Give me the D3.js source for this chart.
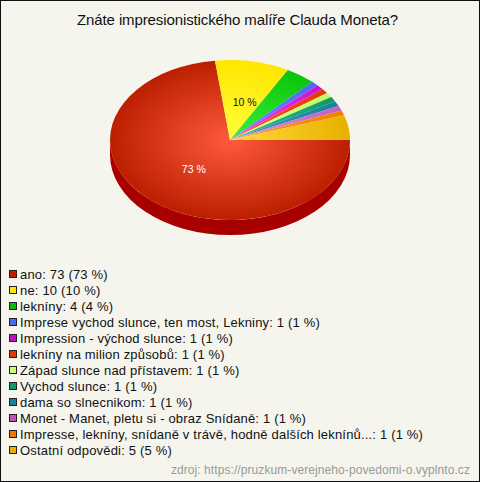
<!DOCTYPE html>
<html><head><meta charset="utf-8">
<script src="https://cdn.jsdelivr.net/npm/d3@7/dist/d3.min.js"></script>
<style>html,body{margin:0;padding:0;background:#f5f5ee}svg{display:block}text{font-family:"Liberation Sans",Arial,sans-serif}</style>
</head><body><svg id="c" width="480" height="482"></svg>
<script>
const titleText = "Znáte impresionistického malíře Clauda Moneta?";
const sourceText = "zdroj: https://pruzkum-verejneho-povedomi-o.vyplnto.cz";
const categories = ["ano","ne","lekníny","Imprese vychod slunce, ten most, Lekniny","Impression - východ slunce","lekníny na milion způsobů","Západ slunce nad přístavem","Vychod slunce","dama so slnecnikom","Monet - Manet, pletu si - obraz Snídaně","Impresse, lekníny, snídaně v trávě, hodně dalších leknínů...","Ostatní odpovědi"];
const values = [73,10,4,1,1,1,1,1,1,1,1,5];
const percents = [73,10,4,1,1,1,1,1,1,1,1,5];
const edgeColors = ["#bb1f00","#ffe600","#0bc40b","#4a6af0","#c814d0","#e03a08","#bcfc68","#0e9a68","#1a809c","#c060c4","#f08000","#e8b000"];
const centerColors = ["#ff5a3c","#ffff3c","#3cf03c","#6a8cff","#ff3cff","#ff5a28","#e0ff9c","#30c090","#40a0bc","#e090e0","#ffa028","#ffdc3c"];
const markerColors = ["#bb1f00","#ffe600","#0bb80b","#4a6af0","#c010c8","#e03a08","#c0ff70","#0e9a68","#1a809c","#b858b8","#f07800","#e8b000"];
const sideColor = "#a80000";
const labelled = [0,1];

const W=480,H=482,cx=230,cy=140,rx=120,ry=80,depth=15;
const svg=d3.select("#c");
svg.append("rect").attr("x",.5).attr("y",.5).attr("width",W-1).attr("height",H-1).attr("fill","#f5f5ee").attr("stroke","#111");
svg.append("text").attr("x",237.5).attr("y",25).attr("text-anchor","middle").attr("font-size",15).attr("letter-spacing",-0.11).attr("fill","#111").text(titleText);

const pie=d3.pie().sort(null).startAngle(Math.PI/2).endAngle(Math.PI/2+2*Math.PI);
const arcs=pie(values);
const arc=d3.arc().innerRadius(0).outerRadius(1);
const defs=svg.append("defs");
categories.forEach((c,i)=>{
  const g=defs.append("radialGradient").attr("id","g"+i).attr("gradientUnits","userSpaceOnUse").attr("cx",0).attr("cy",0).attr("r",1);
  g.append("stop").attr("offset",0).attr("stop-color",centerColors[i]);
  g.append("stop").attr("offset",1).attr("stop-color",edgeColors[i]);
});
const sx=d3.scaleLinear().domain([-1,1]).range([cx-rx,cx+rx]);
const sy=d3.scaleLinear().domain([-1,1]).range([cy-ry,cy+ry]);
svg.append("path").attr("fill",sideColor)
  .attr("d",`M${sx(1)},${sy(0)}A${rx},${ry} 0 0 1 ${sx(-1)},${sy(0)}L${sx(-1)},${sy(0)+depth}A${rx},${ry} 0 0 0 ${sx(1)},${sy(0)+depth}Z`);
const face=svg.append("g").attr("transform",`translate(${cx},${cy}) scale(${rx},${ry})`);
face.selectAll("path").data(arcs).join("path").attr("d",arc).attr("fill",(d,i)=>`url(#g${i})`);
labelled.forEach(i=>{
  const a=arcs[i], m=(a.startAngle+a.endAngle)/2-Math.PI/2;
  const f=.5;
  svg.append("text").attr("x",sx(Math.cos(m)*f)+3.5).attr("y",sy(Math.sin(m)*f)+(i==0?3:5))
    .attr("text-anchor","middle").attr("font-size",10.5)
    .attr("fill",i==0?"#fff":"#111").text(percents[i]+" %");
});
const ly=d3.scalePoint().domain(d3.range(categories.length)).range([275,451]);
const leg=svg.append("g").selectAll("g").data(categories).join("g").attr("transform",(d,i)=>`translate(0,${ly(i)})`);
leg.append("rect").attr("x",9.5).attr("y",-4.5).attr("width",7).attr("height",7).attr("fill",(d,i)=>markerColors[i]).attr("stroke","#222");
leg.append("text").attr("x",20).attr("y",4).attr("font-size",13).attr("letter-spacing",0.18).attr("fill","#111").text((d,i)=>`${d}: ${values[i]} (${percents[i]} %)`);
svg.append("text").attr("x",470).attr("y",474).attr("text-anchor","end").attr("font-size",12).attr("letter-spacing",0.08).attr("fill","#999").text(sourceText);
</script></body></html>
